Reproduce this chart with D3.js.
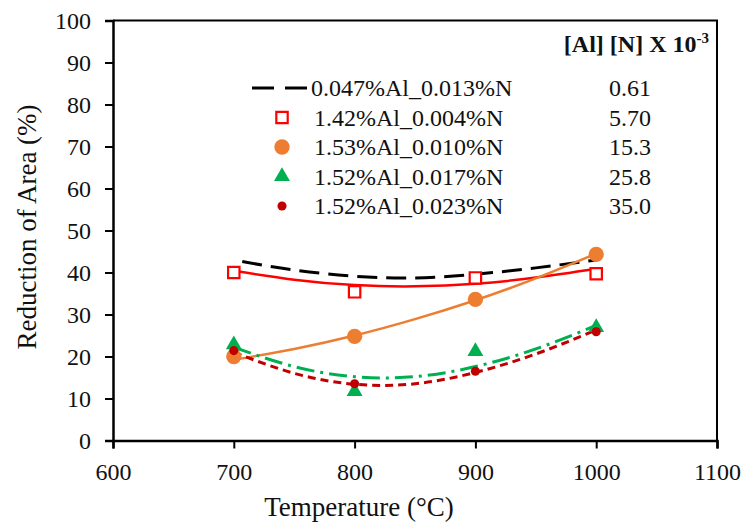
<!DOCTYPE html>
<html>
<head>
<meta charset="utf-8">
<script src="https://cdn.jsdelivr.net/npm/d3@7"></script>
<style>
  body { margin: 0; background: #fff; }
  svg { display: block; font-family: "Liberation Serif", "Times New Roman", serif; }
</style>
</head>
<body>
<svg width="749" height="526"></svg>
<script>
// measured points
var temps = [700, 800, 900, 1000];
var ra142 = [40.0, 35.4, 38.7, 39.7];
var ra153 = [20.0, 24.8, 33.6, 44.3];
var ra152a = [22.8, 11.7, 21.2, 26.9];
var ra152b = [21.4, 13.5, 16.5, 25.9];

// trend lines
var trendT = [700, 750, 800, 850, 900, 950, 1000];
var blackT = [707, 750, 800, 850, 900, 950, 1000];
var trendBlack = [42.6, 40.6, 39.1, 38.7, 39.6, 41.1, 43.0];
var trend142 = [40.4, 38.3, 37.0, 36.7, 37.3, 38.8, 40.9];
var trend153 = [19.2, 21.8, 25.0, 28.9, 33.4, 38.6, 44.5];
var trend152a = [22.2, 17.6, 15.2, 15.2, 17.6, 21.8, 27.4];
var trend152b = [21.0, 16.0, 13.4, 13.5, 16.2, 20.6, 26.3];

var legendLabels = ["0.047%Al_0.013%N", "1.42%Al_0.004%N", "1.53%Al_0.010%N", "1.52%Al_0.017%N", "1.52%Al_0.023%N"];
var legendValues = ["0.61", "5.70", "15.3", "25.8", "35.0"];

var xTicks = [600, 700, 800, 900, 1000, 1100];
var yTicks = [0, 10, 20, 30, 40, 50, 60, 70, 80, 90, 100];

var svg = d3.select("svg"),
    margin = {top: 20.5, right: 32, bottom: 85.5, left: 113},
    width = +svg.attr("width") - margin.left - margin.right,
    height = +svg.attr("height") - margin.top - margin.bottom;

var x = d3.scaleLinear().domain([600, 1100]).range([0, width]);
var y = d3.scaleLinear().domain([0, 100]).range([height, 0]);

var g = svg.append("g").attr("transform", "translate(" + margin.left + "," + margin.top + ")");

// frame (top + right)
g.append("path")
  .attr("d", "M0,0H" + width + "V" + height)
  .attr("fill", "none").attr("stroke", "#000").attr("stroke-width", 2);

var xAxis = g.append("g").attr("transform", "translate(0," + height + ")")
  .call(d3.axisBottom(x).tickValues(xTicks).tickFormat(d3.format("d")).tickSize(8).tickPadding(14));
var yAxis = g.append("g")
  .call(d3.axisLeft(y).tickValues(yTicks).tickSize(8).tickPadding(14));

[xAxis, yAxis].forEach(function (a) {
  a.select(".domain").attr("stroke-width", 2.5);
  a.selectAll(".tick line").attr("stroke-width", 2);
  a.selectAll("text").attr("font-family", "Liberation Serif").attr("font-size", 24).attr("fill", "#111");
});

svg.append("text")
  .attr("x", 359).attr("y", 516)
  .attr("text-anchor", "middle").attr("font-size", 27).attr("fill", "#111")
  .text("Temperature (°C)");
svg.append("text")
  .attr("transform", "translate(36,227) rotate(-90)")
  .attr("text-anchor", "middle").attr("font-size", 27).attr("fill", "#111")
  .text("Reduction of Area (%)");

function trend(ts, vs) {
  return d3.line().curve(d3.curveNatural)
    .x(function (d, i) { return x(ts[i]); })
    .y(function (d) { return y(d); })(vs);
}

g.append("path").attr("d", trend(blackT, trendBlack))
  .attr("fill", "none").attr("stroke", "#000").attr("stroke-width", 3).attr("stroke-dasharray", "20,9");
g.append("path").attr("d", trend(trendT, trend142))
  .attr("fill", "none").attr("stroke", "#ff0000").attr("stroke-width", 2.5);
g.append("path").attr("d", trend(trendT, trend153))
  .attr("fill", "none").attr("stroke", "#ed7d31").attr("stroke-width", 2.5);
g.append("path").attr("d", trend(trendT, trend152a))
  .attr("fill", "none").attr("stroke", "#00b050").attr("stroke-width", 3).attr("stroke-dasharray", "18,6,3,6");
g.append("path").attr("d", trend(trendT, trend152b))
  .attr("fill", "none").attr("stroke", "#c00000").attr("stroke-width", 3).attr("stroke-dasharray", "8,5");

var sq = d3.symbol().type(d3.symbolSquare).size(130);
var tri = d3.symbol().type(d3.symbolTriangle).size(110);

function drawMarks(vals, fn) {
  g.append("g").selectAll("path").data(vals).enter().append("path")
    .attr("transform", function (d, i) { return "translate(" + x(temps[i]) + "," + y(d) + ")"; })
    .call(fn);
}
drawMarks(ra142, function (s) { s.attr("d", sq).attr("fill", "#fff").attr("stroke", "#ff0000").attr("stroke-width", 2.2); });
drawMarks(ra153, function (s) { s.attr("d", d3.symbol().type(d3.symbolCircle).size(185)).attr("fill", "#ed7d31"); });
drawMarks(ra152a, function (s) { s.attr("d", tri).attr("fill", "#00b050"); });
drawMarks(ra152b, function (s) { s.attr("d", d3.symbol().type(d3.symbolCircle).size(65)).attr("fill", "#c00000"); });

// legend
var leg = svg.append("g");
var rowY = d3.scaleLinear().domain([0, 1]).range([88, 117.5]);
var legMarks = [
  function (s, cy) {
    s.append("path").attr("d", "M252," + cy + "H308")
      .attr("stroke", "#000").attr("stroke-width", 3).attr("stroke-dasharray", "22,11");
  },
  function (s, cy) {
    s.append("path").attr("d", sq).attr("transform", "translate(282," + cy + ")")
      .attr("fill", "#fff").attr("stroke", "#ff0000").attr("stroke-width", 2.2);
  },
  function (s, cy) {
    s.append("path").attr("d", d3.symbol().type(d3.symbolCircle).size(185)).attr("transform", "translate(282," + cy + ")")
      .attr("fill", "#ed7d31");
  },
  function (s, cy) {
    s.append("path").attr("d", tri).attr("transform", "translate(282," + cy + ")").attr("fill", "#00b050");
  },
  function (s, cy) {
    s.append("path").attr("d", d3.symbol().type(d3.symbolCircle).size(65)).attr("transform", "translate(282," + cy + ")")
      .attr("fill", "#c00000");
  }
];
legendLabels.forEach(function (lab, i) {
  var cy = rowY(i);
  legMarks[i](leg, cy);
  leg.append("text").attr("x", i === 0 ? 311 : 314).attr("y", cy + 8)
    .attr("font-size", 24).attr("fill", "#111").text(lab);
  leg.append("text").attr("x", 630).attr("y", cy + 8).attr("text-anchor", "middle")
    .attr("font-size", 24).attr("fill", "#111").text(legendValues[i]);
});

var head = svg.append("text").attr("x", 709).attr("y", 52).attr("text-anchor", "end")
  .attr("font-size", 24).attr("font-weight", "bold").attr("fill", "#111");
head.append("tspan").text("[Al] [N] X 10");
head.append("tspan").attr("dy", -9).attr("font-size", 15).text("-3");
</script>
</body>
</html>
